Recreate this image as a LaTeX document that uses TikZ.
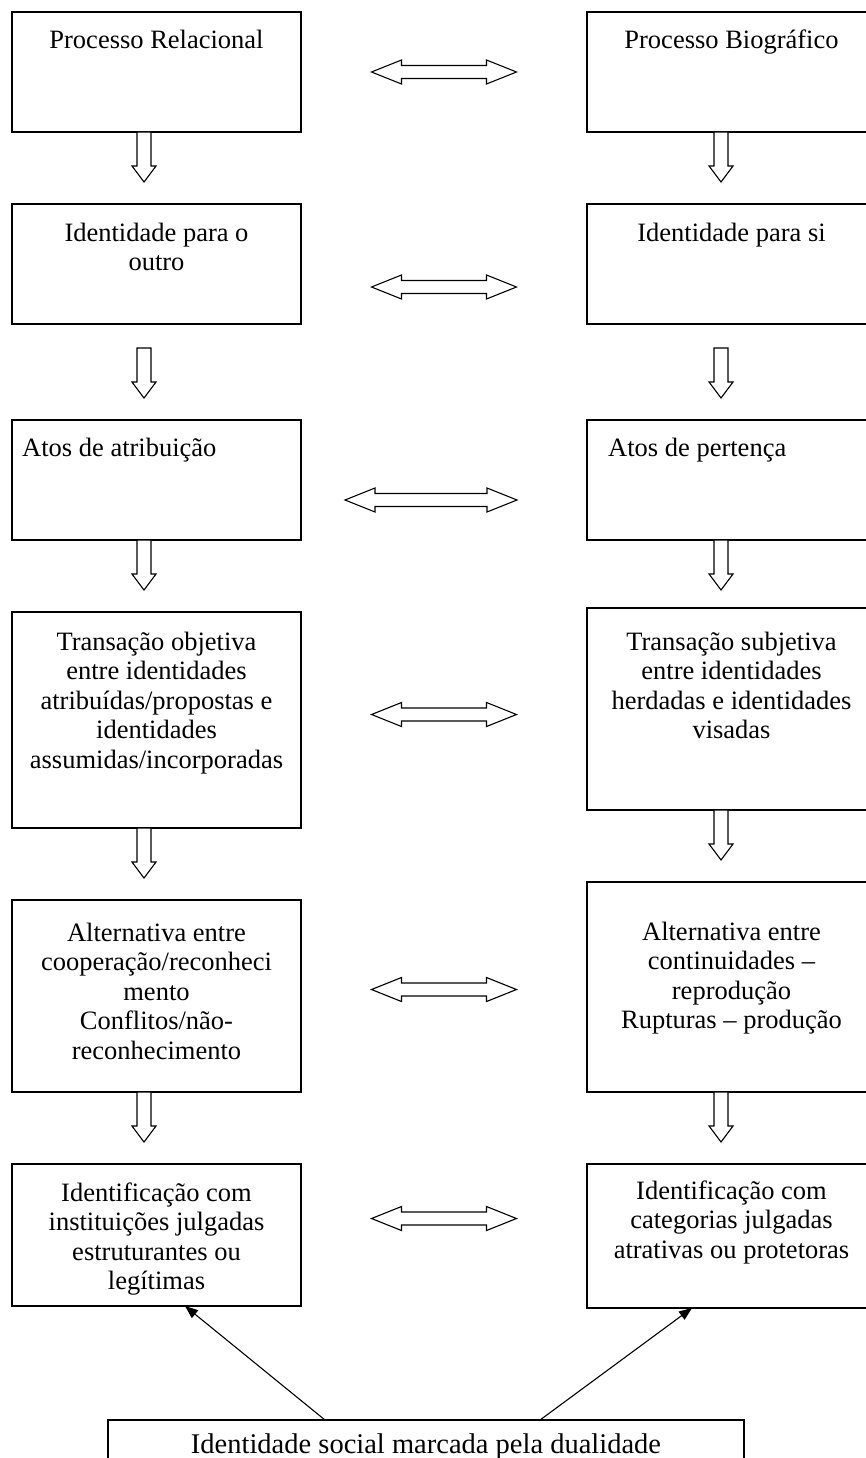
\documentclass[tikz,border=0pt]{standalone}
\usepackage{fontspec}
\setmainfont{Liberation Serif}
\usetikzlibrary{calc,arrows.meta}

% box corners and sizes are given in pt, y grows downwards
\newcommand\stepframe[5]{\node[frame, minimum width=#4pt, minimum height=#5pt] (#1) at (#2,#3) {};}
% centred text: #3 is the distance from the box top to the first baseline
\newcommand\steptext[4]{\node[boxtext] (#1) at ($(#2.north)+(0,#3-20.65)$) {\strut #4};}
% left-aligned text: #3 is the indent, #4 the baseline distance
\newcommand\steptextleft[5]{\node[boxtextleft] (#1) at ($(#2.north west)+(#3,#4-20.65)$) {\strut #5};}

\begin{document}
\begin{tikzpicture}[x=1pt,y=-1pt,
  frame/.style={draw, line width=1.1pt, inner sep=0pt, outer sep=0pt, anchor=north west},
  boxtext/.style={font=\fontsize{26.5}{29.5}\selectfont, align=center, inner sep=0pt, anchor=north},
  boxtextleft/.style={boxtext, align=left, anchor=north west},
  basetext/.style={boxtext, font=\fontsize{28.5}{29.5}\selectfont},
  blockline/.style={draw, line width=1.1pt, fill=white, line join=miter},
  pointer/.style={line width=1.1pt, -{Triangle[length=13pt,width=10pt]}},
  downblock/.pic={\path[blockline] (-7,0) -- (7,0) -- (7,34) -- (12,34) -- (0,50)
      -- (-12,34) -- (-7,34) -- cycle;},
  sideblock/.pic={\path[blockline] (-72.5,0) -- (-42.5,-12) -- (-42.5,-6.5) -- (42.5,-6.5)
      -- (42.5,-12) -- (72.5,0) -- (42.5,12) -- (42.5,6.5) -- (-42.5,6.5) -- (-42.5,12) -- cycle;},
  sideblocklong/.pic={\path[blockline] (-86,0) -- (-56,-12) -- (-56,-6.5) -- (56,-6.5)
      -- (56,-12) -- (86,0) -- (56,12) -- (56,6.5) -- (-56,6.5) -- (-56,12) -- cycle;},
]
\useasboundingbox (0,0) rectangle (866,1458);
\fill[white] (0,0) rectangle (866,1458);
\clip (0,0) rectangle (866,1458);

% ---- left column: relational process
\stepframe{L1}{12}{12}{289}{120}
\stepframe{L2}{12}{204}{289}{120}
\stepframe{L3}{12}{420}{289}{120}
\stepframe{L4}{12}{612}{289}{216}
\stepframe{L5}{12}{900}{289}{192}
\stepframe{L6}{12}{1164}{289}{142}

% ---- right column: biographical process
\stepframe{R1}{587}{12}{289}{120}
\stepframe{R2}{587}{204}{289}{120}
\stepframe{R3}{587}{420}{289}{120}
\stepframe{R4}{587}{608}{289}{202}
\stepframe{R5}{587}{882}{289}{210}
\stepframe{R6}{587}{1164}{289}{144}

% ---- common base
\stepframe{B}{108}{1420}{636}{80}

% ---- texts
\steptext{L1t}{L1}{36}{Processo Relacional}
\steptext{R1t}{R1}{36}{Processo Biográfico}
\steptext{L2t}{L2}{37}{Identidade para o\\outro}
\steptext{R2t}{R2}{37}{Identidade para si}
\steptextleft{L3t}{L3}{10}{36}{Atos de atribuição}
\steptextleft{R3t}{R3}{21}{36}{Atos de pertença}
\steptext{L4t}{L4}{38}{Transação objetiva\\entre identidades\\atribuídas/propostas e\\identidades\\assumidas/incorporadas}
\steptext{R4t}{R4}{42}{Transação subjetiva\\entre identidades\\herdadas e identidades\\visadas}
\steptext{L5t}{L5}{41}{Alternativa entre\\cooperação/reconheci\\mento\\Conflitos/não-\\reconhecimento}
\steptext{R5t}{R5}{58}{Alternativa entre\\continuidades –\\reprodução\\Rupturas – produção}
\steptext{L6t}{L6}{37}{Identificação com\\instituições julgadas\\estruturantes ou\\legítimas}
\steptext{R6t}{R6}{35}{Identificação com\\categorias julgadas\\atrativas ou protetoras}
\node[basetext] (Bt) at ($(B.north)+(0,33-20.65)$) {\strut Identidade social marcada pela dualidade};

% ---- downward block arrows
\pic at ($(L1.south west)+(132,0)$) {downblock};
\pic at ($(R1.south west)+(134,0)$) {downblock};
\pic at ($(L2.south west)+(132,24)$) {downblock};
\pic at ($(R2.south west)+(134,24)$) {downblock};
\pic at ($(L3.south west)+(132,0)$) {downblock};
\pic at ($(R3.south west)+(134,0)$) {downblock};
\pic at ($(L4.south west)+(132,0)$) {downblock};
\pic at ($(R4.south west)+(134,0)$) {downblock};
\pic at ($(L5.south west)+(132,0)$) {downblock};
\pic at ($(R5.south west)+(134,0)$) {downblock};

% ---- two-way block arrows between the columns
\pic at ($(L1.east)!0.5!(R1.west)$) {sideblock};
\pic at ($(L2.east)!0.5!(R2.west)+(0,23)$) {sideblock};
\pic at ($(L3.east)!0.5!(R3.west)+(-13,20)$) {sideblocklong};
\pic at ($(L4.east)!0.5!(R4.west)+(0,0)$) {sideblock};
\pic at ($(L5.east)!0.5!(R5.west)+(0,-2)$) {sideblock};
\pic at ($(L6.east)!0.5!(R6.west)+(0,-17)$) {sideblock};

% ---- the base feeds both identifications
\draw[pointer] ($(B.north west)+(217,0)$) -- ($(L6.south west)+(173,0)$);
\draw[pointer] ($(B.north west)+(432,0)$) -- ($(R6.south west)+(105,0)$);
\end{tikzpicture}
\end{document}
